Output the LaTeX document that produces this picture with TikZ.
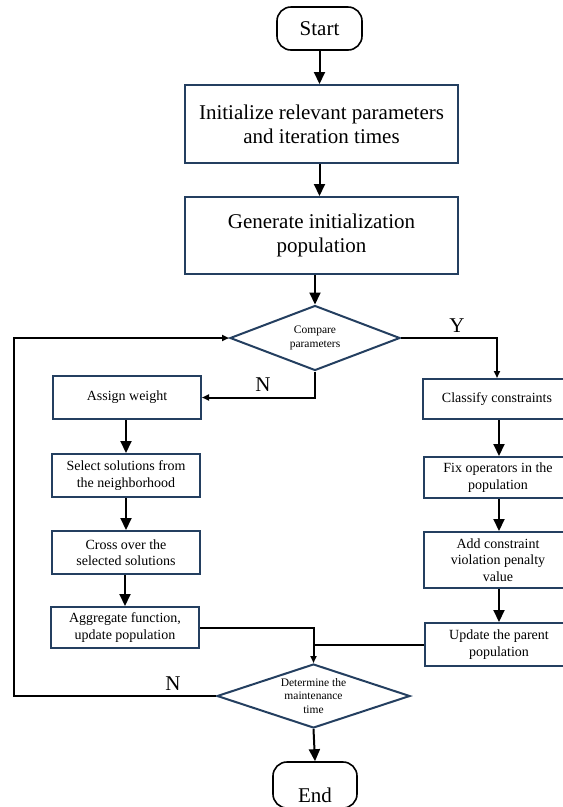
\documentclass[tikz,border=0pt]{standalone}
\usepackage{fontspec}
\setmainfont{Liberation Serif}
\usetikzlibrary{shapes.geometric,arrows.meta,calc}
\definecolor{navy}{HTML}{243F60}
\begin{document}
\begin{tikzpicture}[x=1pt,y=-1pt,
  bigbox/.style={draw=navy, line width=2pt, minimum width=273pt, minimum height=78pt,
    font=\fontsize{21}{24}\selectfont, align=center, inner sep=0pt},
  smallbox/.style={draw=navy, line width=2pt, minimum width=148pt,
    font=\fontsize{14}{16.5}\selectfont, align=center, inner sep=0pt},
  term/.style={draw=black, line width=1.6pt, rounded corners=14pt, minimum width=85pt,
    minimum height=43pt, font=\fontsize{21}{24}\selectfont, inner sep=0pt},
  dec/.style={diamond, draw=navy, line width=2pt, font=\fontsize{11.5}{13.5}\selectfont,
    align=center, inner sep=0pt, aspect=2.6},
  lbl/.style={font=\fontsize{21}{24}\selectfont, inner sep=0pt},
  varr/.style={line width=2pt, -{Triangle[length=12pt,width=11pt]}},
  sarr/.style={line width=2pt, -{Triangle[length=7pt,width=6pt]}},
  plain/.style={line width=2pt}
]
\useasboundingbox (0,0) rectangle (563,807);

\node[term] (start) at (319.5,28.5) {Start};
\node[bigbox] (init) at (321.5,124) {Initialize relevant parameters\\and iteration times};
\node[bigbox, minimum height=77pt] (gen) at (321.5,235.5) {Generate initialization\\population};
\node[dec, minimum width=170pt, minimum height=65pt] (d1) at (315,338) {Compare\\parameters};

\node[smallbox, minimum height=43pt] (assign) at (127,397.5) {Assign weight};
\node[smallbox, minimum height=43pt] (select) at (126,475.5) {Select solutions from\\the neighborhood};
\node[smallbox, minimum height=43pt] (cross) at (126,552.5) {Cross over the\\selected solutions};
\node[smallbox, minimum height=41pt] (aggr) at (125,627.5) {Aggregate function,\\update population};

\node[smallbox, minimum height=40pt] (classify) at (497,399) {Classify constraints};
\node[smallbox, minimum height=41pt] (fix) at (498,477.5) {Fix operators in the\\population};
\node[smallbox, minimum height=56pt] (add) at (498,560) {Add constraint\\violation penalty\\value};
\node[smallbox, minimum height=43pt] (update) at (499,644.5) {Update the parent\\population};

\node[dec, aspect=3, minimum width=193pt, minimum height=64pt] (d2) at (313.5,696) {Determine the\\maintenance\\time};
\node[term, minimum width=84pt, minimum height=45pt, text height=40pt, text depth=6pt] (end) at (315,785) {End};

\node[lbl] (ylab) at (457,326) {Y};
\node[lbl] (nlab1) at (263,385) {N};
\node[lbl] (nlab2) at (173,684) {N};

\coordinate (lb) at (14,696);
\coordinate (lt) at (14,338);

\draw[varr] (start.south) -- (start.south |- init.north);
\draw[varr] (init.south -| start.south) -- (gen.north -| start.south);
\draw[varr] (gen.south -| d1.north) -- (d1.north);
\draw[sarr] (d1.east) -| (classify.north);
\draw[sarr] (d1.south) |- (assign.east);
\draw[varr] (assign.south -| select.north) -- (select.north);
\draw[varr] (select.south) -- (cross.north);
\draw[varr] (cross.south -| aggr.north) -- (aggr.north);
\draw[varr] (classify.south -| 499,0) -- (fix.north -| 499,0);
\draw[varr] (fix.south -| 499,0) -- (add.north -| 499,0);
\draw[varr] (add.south -| 499,0) -- (update.north -| 499,0);
\draw[sarr] (aggr.east) -| (d2.north);
\draw[plain] (update.west) -- (update.west -| d2.north);
\draw[sarr] (d2.west) -- (lb) -- (lt) -- (d1.west);
\draw[varr] (d2.south) -- (end.north);
\end{tikzpicture}
\end{document}
